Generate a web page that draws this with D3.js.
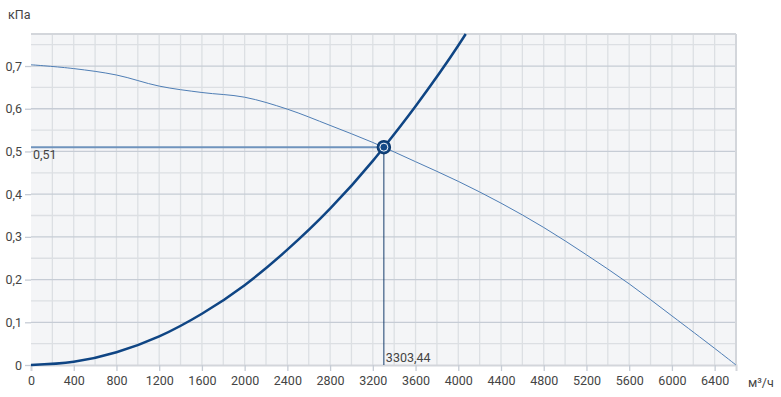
<!DOCTYPE html>
<html>
<head>
<meta charset="utf-8">
<script src="https://cdn.jsdelivr.net/npm/d3@7"></script>
<style>
  body { margin: 0; background: #fff; }
  svg text { font-family: Roboto, "Noto Sans", sans-serif; }
</style>
</head>
<body>
<svg id="chart"></svg>
<script>
// Fan curve (pressure, kPa) vs airflow (m3/h)
var fanFlow = [0, 400, 800, 1200, 1600, 2000, 2400, 2800, 3200, 3600, 4000, 4400, 4800, 5200, 5600, 6000, 6400, 6600];
var fanPressure = [0.703, 0.694, 0.679, 0.653, 0.638, 0.627, 0.599, 0.561, 0.521, 0.476, 0.43, 0.379, 0.322, 0.258, 0.19, 0.115, 0.039, 0];

// System (network) curve
var sysFlow = [0, 400, 800, 1200, 1600, 2000, 2400, 2800, 3200, 3303.44, 3600, 4000, 4070];
var sysPressure = [0, 0.0075, 0.03, 0.067, 0.12, 0.187, 0.27, 0.366, 0.478, 0.51, 0.606, 0.748, 0.775];

// Working point
var workFlow = 3303.44;
var workPressure = 0.51;

var xTicks = [0, 400, 800, 1200, 1600, 2000, 2400, 2800, 3200, 3600, 4000, 4400, 4800, 5200, 5600, 6000, 6400];
var yTicks = [0, 0.1, 0.2, 0.3, 0.4, 0.5, 0.6, 0.7];

var chart = {};
chart.draw = function() {
    const W = 781, H = 397;
    const margin = { top: 34, right: 45, bottom: 32, left: 31 };

    var fmt = function(v) { return String(v).replace(".", ","); };

    var xScale = d3.scaleLinear().domain([0, 6600]).range([margin.left, W - margin.right]);
    var yScale = d3.scaleLinear().domain([0, 0.775]).range([H - margin.bottom, margin.top]);

    var svg = d3.select("#chart").attr("width", W).attr("height", H);

    // plot background
    svg.append("rect")
        .attr("x", xScale(0)).attr("y", yScale(0.775))
        .attr("width", xScale(6600) - xScale(0))
        .attr("height", yScale(0) - yScale(0.775))
        .attr("fill", "#f4f5f7");

    // minor grid
    var grid = svg.append("g");
    d3.range(200, 6600, 200).forEach(function(v) {
        grid.append("line")
            .attr("x1", xScale(v)).attr("x2", xScale(v))
            .attr("y1", yScale(0)).attr("y2", yScale(0.775))
            .attr("stroke", "#dcdfe3").attr("stroke-width", 1.3);
    });
    d3.range(0.05, 0.77, 0.1).forEach(function(v) {
        grid.append("line")
            .attr("x1", xScale(0)).attr("x2", xScale(6600))
            .attr("y1", yScale(v)).attr("y2", yScale(v))
            .attr("stroke", "#dcdfe3").attr("stroke-width", 1.3);
    });
    yTicks.slice(1).forEach(function(v) {
        grid.append("line")
            .attr("x1", xScale(0)).attr("x2", xScale(6600))
            .attr("y1", yScale(v)).attr("y2", yScale(v))
            .attr("stroke", "#c6ccd5").attr("stroke-width", 1.3);
    });
    // border top/right
    grid.append("line")
        .attr("x1", xScale(0)).attr("x2", xScale(6600))
        .attr("y1", yScale(0.775)).attr("y2", yScale(0.775))
        .attr("stroke", "#d3d6db").attr("stroke-width", 2);
    grid.append("line")
        .attr("x1", xScale(6600)).attr("x2", xScale(6600))
        .attr("y1", yScale(0)).attr("y2", yScale(0.775))
        .attr("stroke", "#d3d6db").attr("stroke-width", 2);

    // axes
    var xAxis = svg.append("g")
        .attr("transform", "translate(0," + yScale(0) + ")")
        .call(d3.axisBottom(xScale).tickValues(xTicks).tickSize(6).tickPadding(5).tickFormat(d3.format("d")));
    var yAxis = svg.append("g")
        .attr("transform", "translate(" + xScale(0) + ",0)")
        .call(d3.axisLeft(yScale).tickValues(yTicks).tickSize(6).tickPadding(3).tickFormat(fmt));
    [xAxis, yAxis].forEach(function(a) {
        a.select(".domain").attr("stroke", "#d3d6db").attr("stroke-width", 2);
        a.selectAll(".tick line").attr("stroke", "#c6ccd5").attr("stroke-width", 1.3);
        a.selectAll(".tick text").attr("fill", "#444").style("font-size", "12.5px");
    });
    yAxis.select(".domain").remove();
    yAxis.selectAll(".tick line").attr("x1", 0);
    xAxis.selectAll(".tick").filter(function(d) { return d === 0; }).select("line").remove();

    // axis units
    svg.append("text").attr("x", 8).attr("y", 19).attr("fill", "#444")
        .style("font-size", "12.5px").text("кПа");
    svg.append("text").attr("x", 748).attr("y", 387).attr("fill", "#444")
        .style("font-size", "12.5px").text("м³/ч");

    var line = d3.line().curve(d3.curveMonotoneX)
        .x(function(d) { return xScale(d[0]); })
        .y(function(d) { return yScale(d[1]); });
    var smooth = d3.line().curve(d3.curveCatmullRom.alpha(0.5))
        .x(function(d) { return xScale(d[0]); })
        .y(function(d) { return yScale(d[1]); });

    // fan curve
    svg.append("path")
        .datum(d3.zip(fanFlow, fanPressure))
        .attr("d", smooth)
        .attr("fill", "none")
        .attr("stroke", "#4f7eb5").attr("stroke-width", 1);

    // working point guides
    svg.append("line")
        .attr("x1", xScale(0)).attr("x2", xScale(workFlow))
        .attr("y1", yScale(workPressure)).attr("y2", yScale(workPressure))
        .attr("stroke", "#6f93bd").attr("stroke-width", 2);
    svg.append("line")
        .attr("x1", xScale(workFlow)).attr("x2", xScale(workFlow))
        .attr("y1", yScale(workPressure)).attr("y2", yScale(0))
        .attr("stroke", "#173e6e").attr("stroke-width", 1);

    // system curve
    svg.append("path")
        .datum(d3.zip(sysFlow, sysPressure))
        .attr("d", line)
        .attr("fill", "none")
        .attr("stroke", "#0f4584").attr("stroke-width", 2.5);

    // working point marker
    svg.append("circle")
        .attr("cx", xScale(workFlow)).attr("cy", yScale(workPressure))
        .attr("r", 6.5).attr("fill", "#154a87").attr("stroke", "#0d3a6e").attr("stroke-width", 1.5);
    svg.append("circle")
        .attr("cx", xScale(workFlow)).attr("cy", yScale(workPressure))
        .attr("r", 4).attr("fill", "none").attr("stroke", "#fff").attr("stroke-width", 1);

    // value labels
    svg.append("text").attr("x", xScale(0) + 2).attr("y", yScale(workPressure) + 12)
        .attr("fill", "#444").style("font-size", "12.5px").text(fmt(workPressure));
    svg.append("text").attr("x", xScale(workFlow) + 2).attr("y", yScale(0) - 3)
        .attr("fill", "#444").style("font-size", "12.5px").text(fmt(workFlow));
};
chart.draw();
</script>
</body>
</html>
